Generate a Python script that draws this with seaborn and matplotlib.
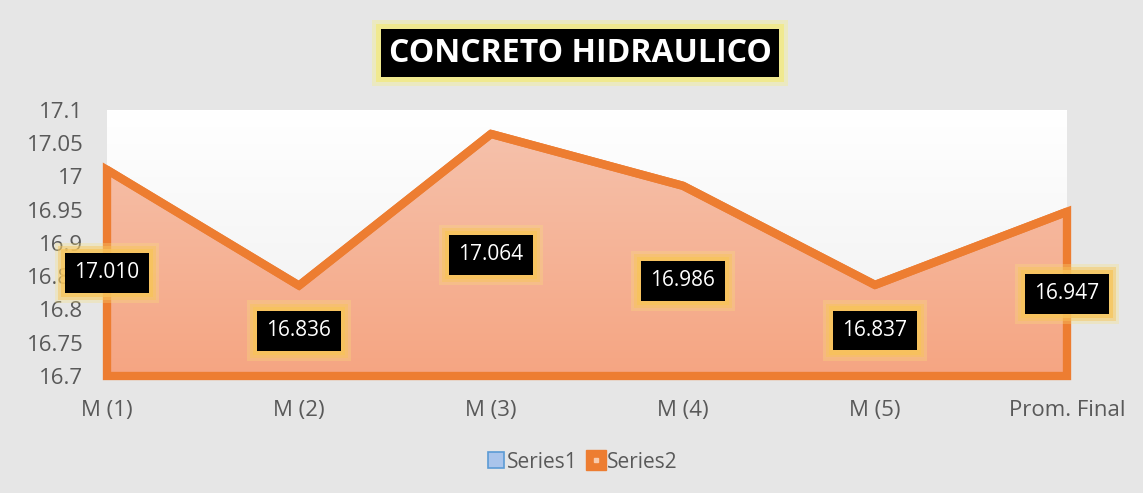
import numpy as np
import pandas as pd
import seaborn as sns
import matplotlib
matplotlib.use("Agg")
import matplotlib.pyplot as plt
from matplotlib.patches import Polygon
from matplotlib.lines import Line2D
from matplotlib.colors import LinearSegmentedColormap

categories = ["M (1)", "M (2)", "M (3)", "M (4)", "M (5)", "Prom. Final"]
series2 = [17.010, 16.836, 17.064, 16.986, 16.837, 16.947]
label_texts = ["17.010", "16.836", "17.064", "16.986", "16.837", "16.947"]
y_ticks = [16.7, 16.75, 16.8, 16.85, 16.9, 16.95, 17.0, 17.05, 17.1]
y_tick_labels = ["16.7", "16.75", "16.8", "16.85", "16.9", "16.95", "17", "17.05", "17.1"]
title = "CONCRETO HIDRAULICO"

sns.set_theme(style="white")
plt.rcParams['font.family'] = ['Open Sans', 'DejaVu Sans']

W, H = 1143, 493
fig = plt.figure(figsize=(W / 100, H / 100), dpi=100)
fig.patch.set_facecolor("#E6E6E6")

ax = fig.add_axes([107 / W, (H - 376) / H, (1067 - 107) / W, (376 - 110) / H])
ymin, ymax = 16.7, 17.1
xs = np.arange(len(categories))
ax.set_xlim(0, len(categories) - 1)
ax.set_ylim(ymin, ymax)

# plot-area background gradient
bg = LinearSegmentedColormap.from_list("bg", ["#EFEFEF", "#FFFFFF"])
ax.imshow(np.linspace(0, 1, 256).reshape(-1, 1), cmap=bg, origin="lower",
          extent=[0, len(categories) - 1, ymin, ymax], aspect="auto", zorder=0)

# area fill gradient clipped to polygon
poly_pts = [(xs[0], ymin)] + list(zip(xs, series2)) + [(xs[-1], ymin)]
poly = Polygon(poly_pts, closed=True, facecolor="none", edgecolor="#ED7D31",
               linewidth=6, joinstyle="miter", clip_on=False, zorder=3)
fillcm = LinearSegmentedColormap.from_list("fill", ["#F5A582", "#F6C4AF"])
im = ax.imshow(np.linspace(0, 1, 256).reshape(-1, 1), cmap=fillcm, origin="lower",
               extent=[0, len(categories) - 1, ymin, ymax], aspect="auto", zorder=1)
clip_poly = Polygon(poly_pts, closed=True, transform=ax.transData, facecolor="none")
ax.add_patch(clip_poly)
clip_poly.set_visible(False)
im.set_clip_path(clip_poly)

df = pd.DataFrame({"cat": xs, "val": series2})
sns.lineplot(data=df, x="cat", y="val", ax=ax, color="#ED7D31", linewidth=6,
             zorder=4, legend=False)
ax.add_patch(poly)

ax.set_xticks(xs)
ax.set_xticklabels(categories, fontsize=16, color="#595959")
ax.set_yticks(y_ticks)
ax.set_yticklabels(y_tick_labels, fontsize=16, color="#595959")
ax.tick_params(axis="x", length=0, pad=17)
ax.tick_params(axis="y", length=0, pad=17)
ax.set_xlabel("")
ax.set_ylabel("")
for s in ax.spines.values():
    s.set_visible(False)

# data labels with glow
for x, v, t in zip(xs, series2, label_texts):
    ym = (v + ymin) / 2
    for pad, col, a in [(0.95, "#F9E07A", 0.3), (0.78, "#F8C458", 0.45), (0.66, "#F8C458", 0.7)]:
        ax.text(x, ym, t, ha="center", va="center", fontsize=15, color=(0, 0, 0, 0),
                bbox=dict(boxstyle=f"square,pad={pad}", facecolor=col, alpha=a,
                          edgecolor="none"), zorder=6, clip_on=False)
    ax.text(x, ym, t, ha="center", va="center", fontsize=15, color="white",
            bbox=dict(boxstyle="square,pad=0.45", facecolor="black", edgecolor="none"),
            zorder=7, clip_on=False)

# title with glow
tx, ty = 580 / W, (H - 53) / H
for pad, col, a in [(0.52, "#F5EE8A", 0.4), (0.4, "#F3EA7A", 0.7)]:
    fig.text(tx, ty, title, ha="center", va="center", fontsize=23,
             fontweight="bold", color=(0, 0, 0, 0),
             bbox=dict(boxstyle=f"square,pad={pad}", facecolor=col, alpha=a, edgecolor="none"))
fig.text(tx, ty, title, ha="center", va="center", fontsize=23,
         fontweight="bold", color="white",
         bbox=dict(boxstyle="square,pad=0.25", facecolor="black", edgecolor="none"))

# legend
h1 = Line2D([], [], marker="s", linestyle="none", markersize=11,
            markerfacecolor="#A9C4EB", markeredgecolor="#5B9BD5", markeredgewidth=1.2)
h2a = Line2D([], [], marker="s", linestyle="none", markersize=14,
             markerfacecolor="#ED7D31", markeredgecolor="#ED7D31")
h2b = Line2D([], [], marker="s", linestyle="none", markersize=3,
             markerfacecolor="#F8CBAD", markeredgecolor="#F8CBAD")
fig.legend([h1, (h2a, h2b)], ["Series1", "Series2"], loc="center",
           bbox_to_anchor=(582 / W, (H - 462) / H), ncol=2, frameon=False,
           fontsize=15, labelcolor="#595959", handlelength=0.9, handletextpad=0.1,
           columnspacing=0.4)

fig.savefig("out.png", dpi=100, facecolor=fig.get_facecolor())
